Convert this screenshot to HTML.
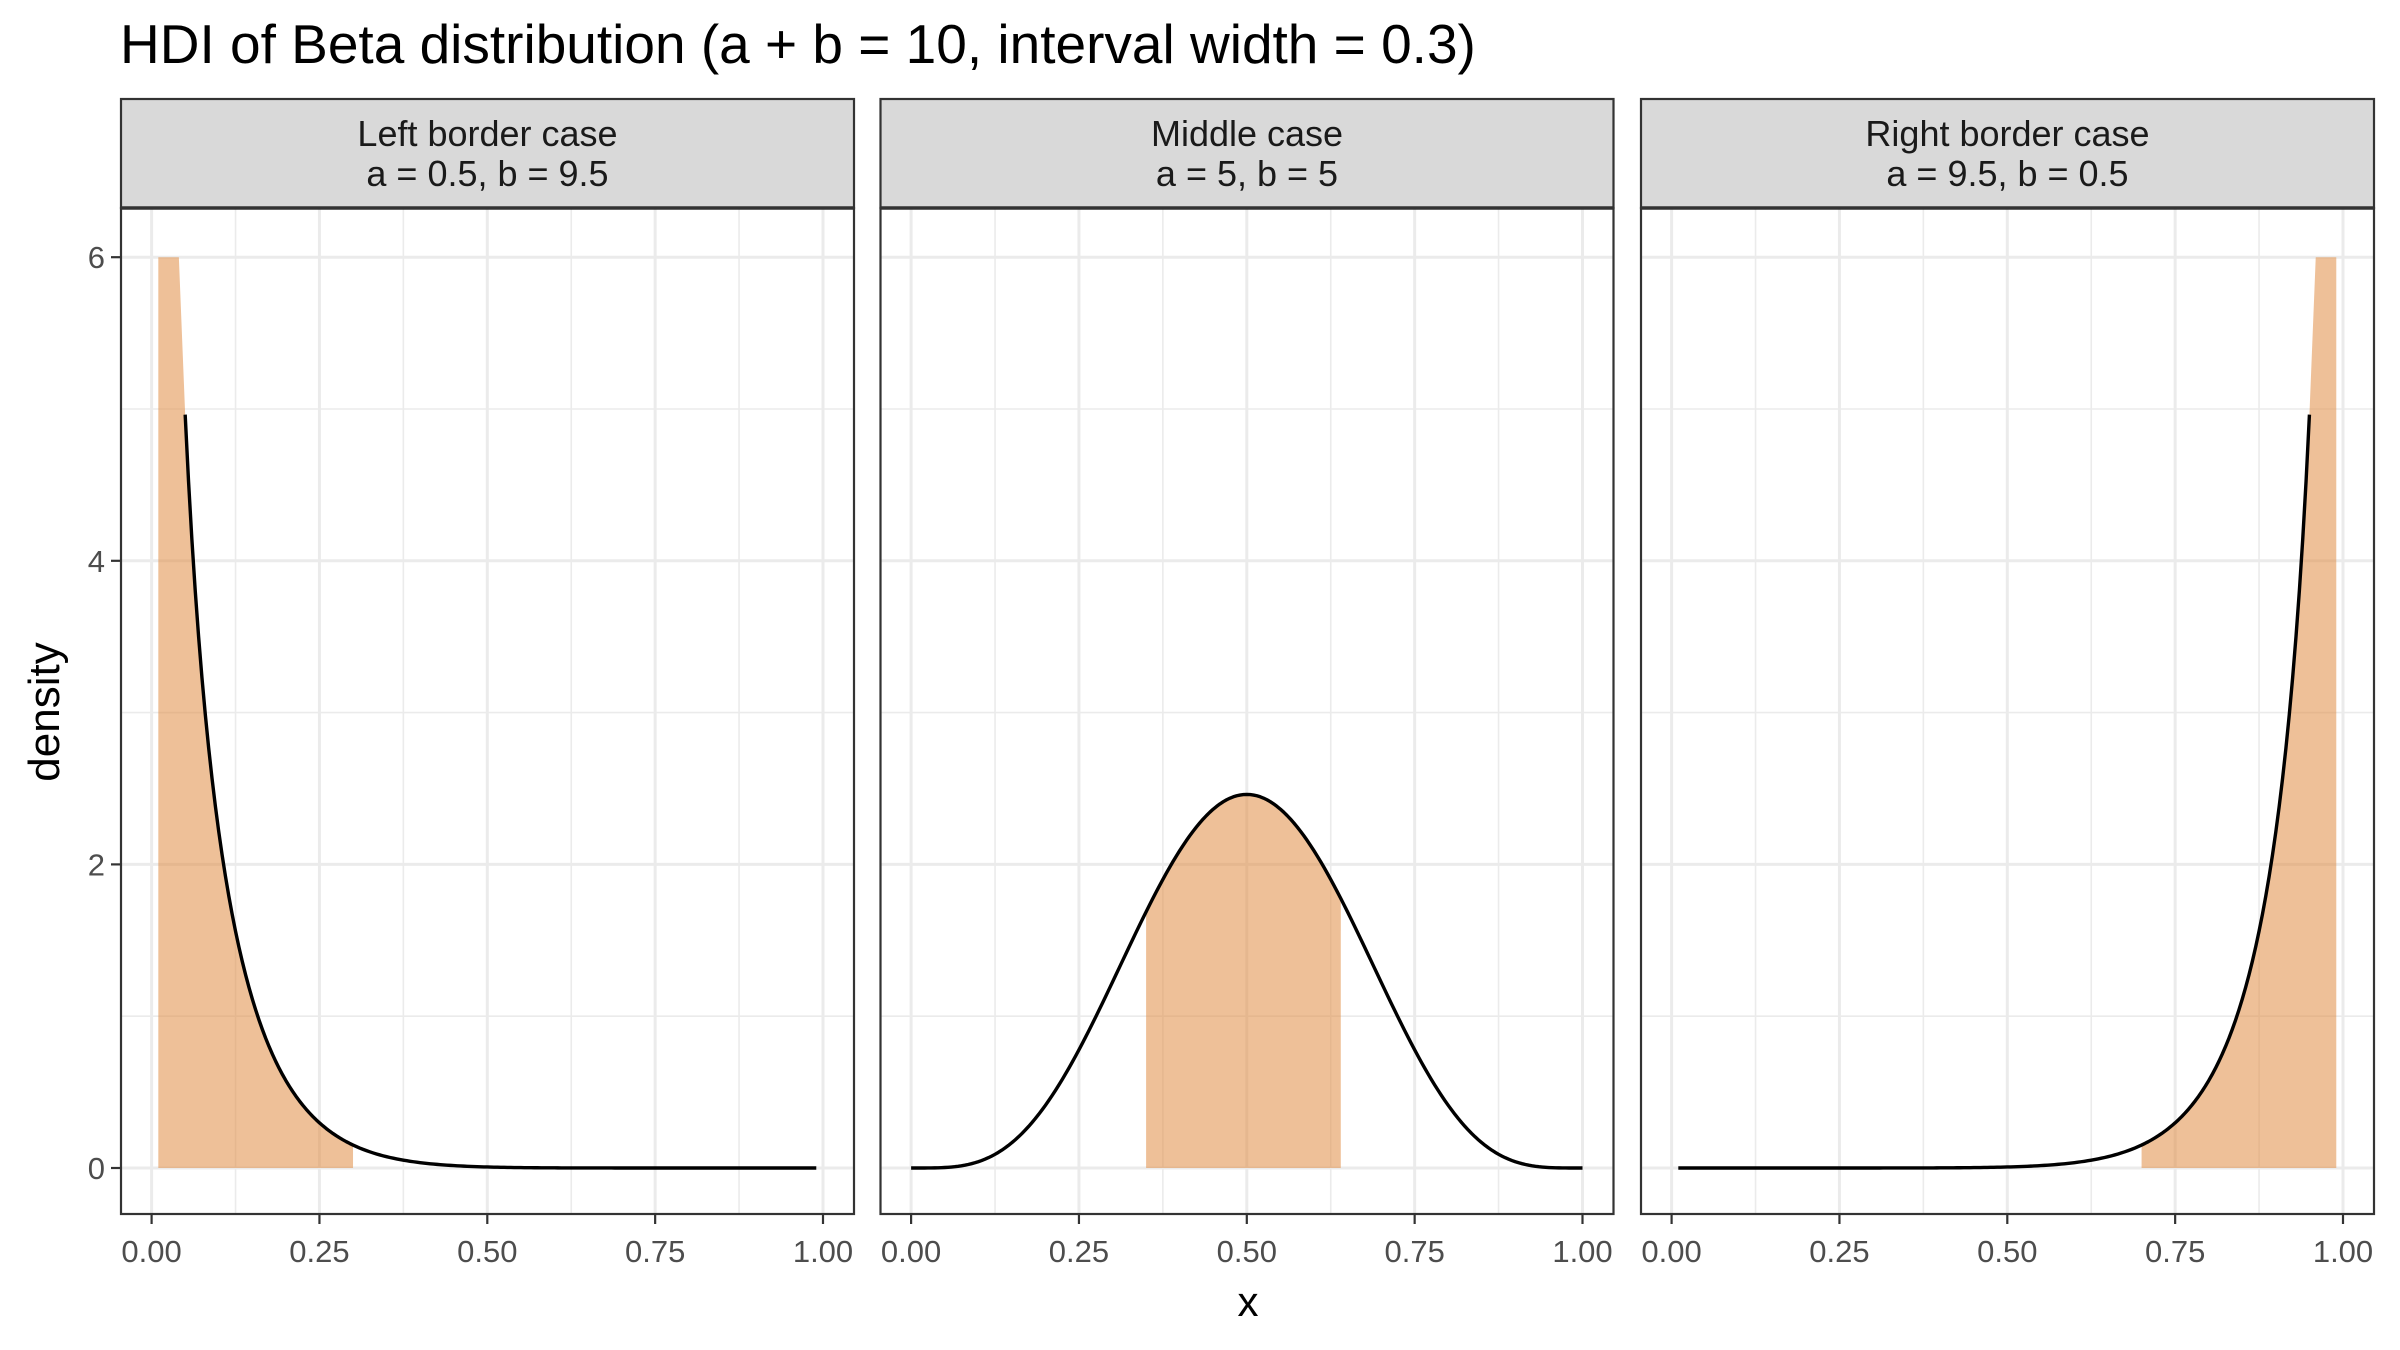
<!DOCTYPE html>
<html><head><meta charset="utf-8"><style>
html,body{margin:0;padding:0;background:#fff;}
svg{display:block;font-family:"Liberation Sans",Arial,sans-serif;}
</style></head><body>
<svg id="chart" width="2400" height="1350" viewBox="0 0 2400 1350" xmlns="http://www.w3.org/2000/svg">
<text x="120" y="63" font-size="55" fill="#000">HDI of Beta distribution (a + b = 10, interval width = 0.3)</text>
<text transform="translate(59,712) rotate(-90)" text-anchor="middle" font-size="44" fill="#000">density</text>
<text x="1248" y="1316" text-anchor="middle" font-size="42" fill="#000">x</text>
<g id="panels"></g>
</svg>
<script>
// ---- data ----
const panelTitles = ["Left border case", "Middle case", "Right border case"];
const panelSubtitles = ["a = 0.5, b = 9.5", "a = 5, b = 5", "a = 9.5, b = 0.5"];
const alphaParams = [0.5, 5, 9.5];
const betaParams = [9.5, 5, 0.5];
const hdiLower = [0.01, 0.35, 0.70];
const hdiUpper = [0.30, 0.64, 0.99];
const curveStart = [0.05, 0.00, 0.01];
const curveEnd = [0.99, 1.00, 0.95];
const xTicks = [0, 0.25, 0.5, 0.75, 1];
const xTickLabels = ["0.00", "0.25", "0.50", "0.75", "1.00"];
const yTicks = [0, 2, 4, 6];
const yTickLabels = ["0", "2", "4", "6"];
const yMax = 6;

// ---- layout ----
const panelLeft = [121, 880.5, 1641];
const panelW = 733, plotTop = 208, plotBottom = 1214, stripTop = 99;
const x0px = 30.6, x1px = 702;
const y0px = 1168, yUnit = 151.8;
const NS = "http://www.w3.org/2000/svg";

function lgamma(z){
  const g=7, c=[0.99999999999980993,676.5203681218851,-1259.1392167224028,771.32342877765313,-176.61502916214059,12.507343278686905,-0.13857109526572012,9.9843695780195716e-6,1.5056327351493116e-7];
  if(z<0.5) return Math.log(Math.PI/Math.abs(Math.sin(Math.PI*z)))-lgamma(1-z);
  z-=1; let x=c[0]; for(let i=1;i<g+2;i++) x+=c[i]/(z+i);
  const t=z+g+0.5; return 0.5*Math.log(2*Math.PI)+(z+0.5)*Math.log(t)-t+Math.log(x);
}
function dbeta(x,a,b){
  if(x<=0) return a<1?Infinity:(a===1?b:0);
  if(x>=1) return b<1?Infinity:(b===1?a:0);
  return Math.exp((a-1)*Math.log(x)+(b-1)*Math.log(1-x)+lgamma(a+b)-lgamma(a)-lgamma(b));
}
function el(tag, attrs, parent){
  const e=document.createElementNS(NS,tag);
  for(const k in attrs) e.setAttribute(k,attrs[k]);
  parent.appendChild(e); return e;
}
const root=document.getElementById("panels");
const defs=el("defs",{},root);

panelTitles.forEach((title,p)=>{
  const L=panelLeft[p];
  const xs=v=>L+x0px+v*(x1px-x0px);
  const ys=v=>y0px-v*yUnit;
  const g=el("g",{},root);
  
  
  const cp=el("clipPath",{id:"clip"+p},defs);
  el("rect",{x:L,y:ys(yMax),width:panelW,height:plotBottom-ys(yMax)},cp);
  for(let v=0.125; v<1.2; v+=0.25){ const X=xs(v); if(X<L+panelW) el("line",{x1:X,x2:X,y1:plotTop,y2:plotBottom,stroke:"#ebebeb","stroke-width":1.6},g); }
  for(let v=1; v<=7; v+=2){ const Y=ys(v); if(Y>plotTop) el("line",{x1:L,x2:L+panelW,y1:Y,y2:Y,stroke:"#ebebeb","stroke-width":1.6},g); }
  xTicks.forEach(v=>el("line",{x1:xs(v),x2:xs(v),y1:plotTop,y2:plotBottom,stroke:"#ebebeb","stroke-width":3},g));
  yTicks.forEach(v=>el("line",{x1:L,x2:L+panelW,y1:ys(v),y2:ys(v),stroke:"#ebebeb","stroke-width":3},g));
  const a=alphaParams[p], b=betaParams[p];
  const pts=[];
  const lo=hdiLower[p], hi=hdiUpper[p];
  const n=Math.round((hi-lo)/0.01);
  for(let i=0;i<=n;i++){ const x=lo+(hi-lo)*i/n; pts.push([x,dbeta(x,a,b)]); }
  let d="M"+xs(lo)+","+ys(0);
  pts.forEach(([x,y])=>{ d+=" L"+xs(x).toFixed(2)+","+ys(Math.min(y,50)).toFixed(2); });
  d+=" L"+xs(hi)+","+ys(0)+" Z";
  const area=el("path",{d:d,fill:"rgb(224,141,68)","fill-opacity":0.55,"clip-path":"url(#clip"+p+")"},g);
  
  
  const cs=curveStart[p], ce=curveEnd[p];
  const m=Math.round((ce-cs)/0.005);
  let cd="";
  for(let i=0;i<=m;i++){ const x=cs+(ce-cs)*i/m; const y=Math.min(dbeta(x,a,b),yMax); cd+=(i?" L":"M")+xs(x).toFixed(2)+","+ys(y).toFixed(2); }
  const line=el("path",{d:cd,fill:"none",stroke:"#000","stroke-width":3.4,"stroke-linejoin":"round"},g);
  
  
  el("rect",{x:L,y:plotTop,width:panelW,height:plotBottom-plotTop,fill:"none",stroke:"#333","stroke-width":2.2},g);
  const strip=el("g",{},g);
  
  
  el("rect",{x:L,y:stripTop,width:panelW,height:plotTop-stripTop,fill:"#d9d9d9",stroke:"#333","stroke-width":2.2},strip);
  el("line",{x1:L,x2:L+panelW,y1:plotTop,y2:plotTop,stroke:"#333","stroke-width":3.5},strip);
  const t1=el("text",{x:L+panelW/2,y:146,"text-anchor":"middle","font-size":36,fill:"#1a1a1a"},strip); t1.textContent=title;
  const t2=el("text",{x:L+panelW/2,y:186,"text-anchor":"middle","font-size":36,fill:"#1a1a1a"},strip); t2.textContent=panelSubtitles[p];
  xTicks.forEach((v,i)=>{
    el("line",{x1:xs(v),x2:xs(v),y1:plotBottom,y2:plotBottom+10,stroke:"#333","stroke-width":2.2},g);
    const t=el("text",{x:xs(v),y:1262,"text-anchor":"middle","font-size":31,fill:"#4d4d4d"},g);
    
    
    t.textContent=xTickLabels[i];
  });
  if(p===0){
    yTicks.forEach((v,i)=>{
      el("line",{x1:L-10,x2:L,y1:ys(v),y2:ys(v),stroke:"#333","stroke-width":2.2},g);
      const t=el("text",{x:L-16,y:ys(v)+11,"text-anchor":"end","font-size":31,fill:"#4d4d4d"},g);
      
      
      t.textContent=yTickLabels[i];
    });
  }
});
</script>
</body></html>
